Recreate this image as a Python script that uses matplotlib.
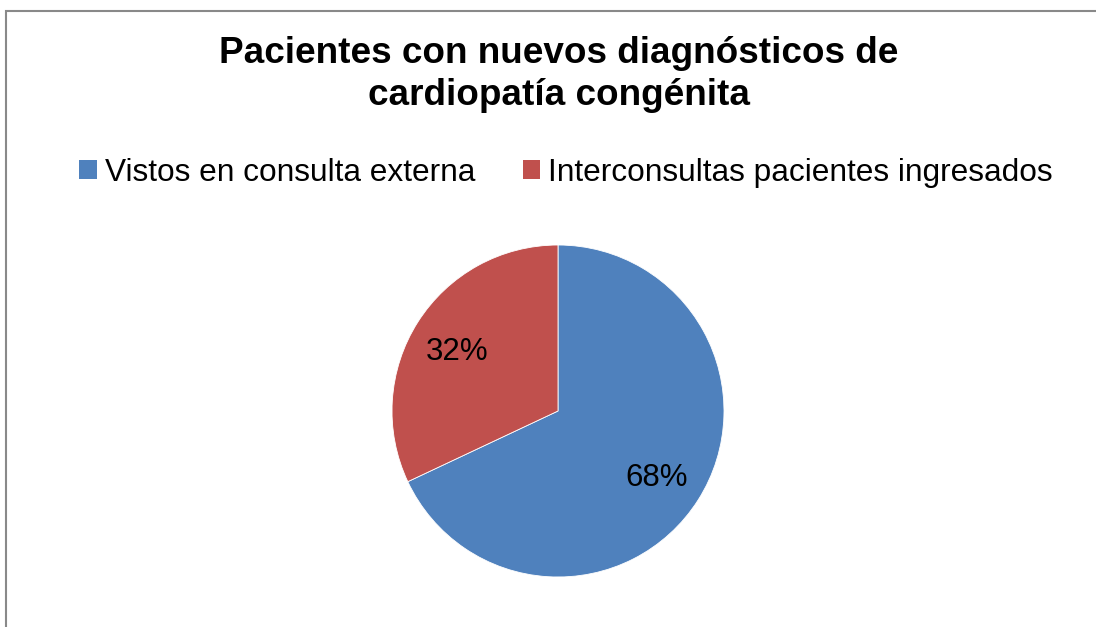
import matplotlib
matplotlib.use("Agg")
import matplotlib.pyplot as plt
import matplotlib.transforms as mtransforms
from matplotlib.patches import Rectangle, Patch

categories = ["Vistos en consulta externa", "Interconsultas pacientes ingresados"]
values = [68, 32]
colors = ["#4F81BD", "#C0504D"]
title = "Pacientes con nuevos diagnósticos de\ncardiopatía congénita"

plt.rcParams['font.family'] = ['Liberation Sans', 'DejaVu Sans']

W, H = 1096, 627
fig = plt.figure(figsize=(W / 100, H / 100), dpi=100)
fig.patch.set_facecolor("white")

# outer chart border (cropped at right and bottom)
fig.add_artist(Rectangle((6 / W, -0.1), 1.2, (H - 11) / H + 0.1, transform=fig.transFigure,
                         fill=False, edgecolor="#898989", linewidth=1.5))

# pie axes
cx, cy, r = 558, 411, 166
ax = fig.add_axes([(cx - r) / W, (H - cy - r) / H, 2 * r / W, 2 * r / H])
wedges, texts, autotexts = ax.pie(values, colors=colors, startangle=90, counterclock=False,
                                  autopct=lambda p: f"{p:.0f}%", pctdistance=0.71,
                                  wedgeprops=dict(edgecolor="white", linewidth=0.6),
                                  textprops=dict(fontsize=22.5, color="black"))
for t in autotexts:
    t.set_transform(mtransforms.offset_copy(ax.transData, fig=fig, x=-1, y=-4, units="dots"))
ax.set_xlim(-1, 1)
ax.set_ylim(-1, 1)
ax.set_aspect("equal")
ax.axis("off")

fig.text(559 / W, 1 - 36 / H, title, ha="center", va="top", fontsize=26.6,
         fontweight="bold", linespacing=1.25)

handles = [Patch(facecolor=c, edgecolor="none") for c in colors]
fig.legend(handles, categories, loc="center", bbox_to_anchor=(566 / W, 1 - 173 / H),
           ncol=2, frameon=False, fontsize=22.8, handlelength=0.55, handleheight=0.55,
           handletextpad=0.25, columnspacing=1.5, borderpad=0, borderaxespad=0)

fig.savefig("out.png", dpi=100, facecolor="white")
